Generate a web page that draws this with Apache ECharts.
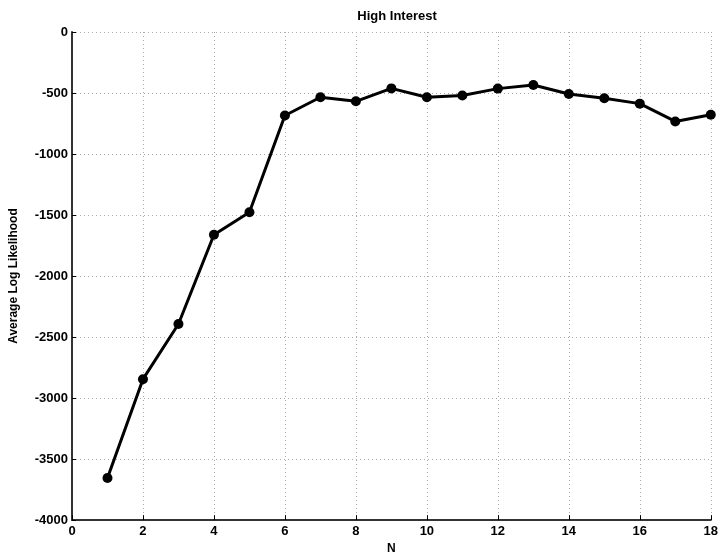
<!DOCTYPE html>
<html><head><meta charset="utf-8">
<script src="https://cdn.jsdelivr.net/npm/echarts@6/dist/echarts.min.js"></script>
<style>html,body{margin:0;padding:0;background:#fff}#c{width:721px;height:560px}</style>
</head><body><div id="c"></div>
<script>
var titleText = "High Interest";
var xName = "N";
var yName = "Average Log Likelihood";
var nValues = [1,2,3,4,5,6,7,8,9,10,11,12,13,14,15,16,17,18];
var logLikelihood = [-3655,-2845,-2393,-1662,-1477,-684,-535,-568,-462,-535,-521,-464,-434,-508,-543,-587,-733,-678];
var xTicks = [0,2,4,6,8,10,12,14,16,18];
var yTicks = [0,-500,-1000,-1500,-2000,-2500,-3000,-3500,-4000];

var chart = echarts.init(document.getElementById('c'));
var font = 'Liberation Sans, Arial, sans-serif';
chart.setOption({
  animation: false,
  title: {text: titleText, left: 392, textAlign: 'center', top: 5,
    textStyle: {fontSize: 13, fontWeight: 'bold', color: '#000', fontFamily: font}},
  grid: {left: 72, right: 8, top: 32, bottom: 37},
  xAxis: {
    type: 'value', min: xTicks[0], max: xTicks[xTicks.length-1], interval: 2,
    name: xName, nameLocation: 'middle', nameGap: 21,
    nameTextStyle: {fontSize: 12, fontWeight: 'bold', color: '#000', fontFamily: font},
    axisLine: {onZero: false, lineStyle: {color: '#333', width: 2}},
    axisTick: {inside: true, length: 5, lineStyle: {color: '#000', width: 1}},
    axisLabel: {fontSize: 13, fontWeight: 'bold', color: '#000', fontFamily: font, margin: 5},
    splitLine: {show: true, lineStyle: {type: [1, 3], color: '#aaa', width: 1}}
  },
  yAxis: {
    type: 'value', min: yTicks[yTicks.length-1], max: yTicks[0], interval: 500,
    name: yName, nameLocation: 'middle', nameGap: 52,
    nameTextStyle: {fontSize: 12, fontWeight: 'bold', color: '#000', fontFamily: font},
    axisLine: {show: true, onZero: false, lineStyle: {color: '#333', width: 2}},
    axisTick: {show: true, inside: true, length: 4, lineStyle: {color: '#000'}},
    axisLabel: {fontSize: 13, fontWeight: 'bold', color: '#000', fontFamily: font, margin: 4,
      formatter: function(v){ return String(v); }},
    splitLine: {show: true, lineStyle: {type: [1, 3], color: '#aaa', width: 1}}
  },
  series: [{
    type: 'line',
    data: nValues.map(function(n, i){ return [n, logLikelihood[i]]; }),
    symbol: 'circle', symbolSize: 10,
    lineStyle: {color: '#000', width: 3},
    itemStyle: {color: '#000'}
  }]
});
</script></body></html>
